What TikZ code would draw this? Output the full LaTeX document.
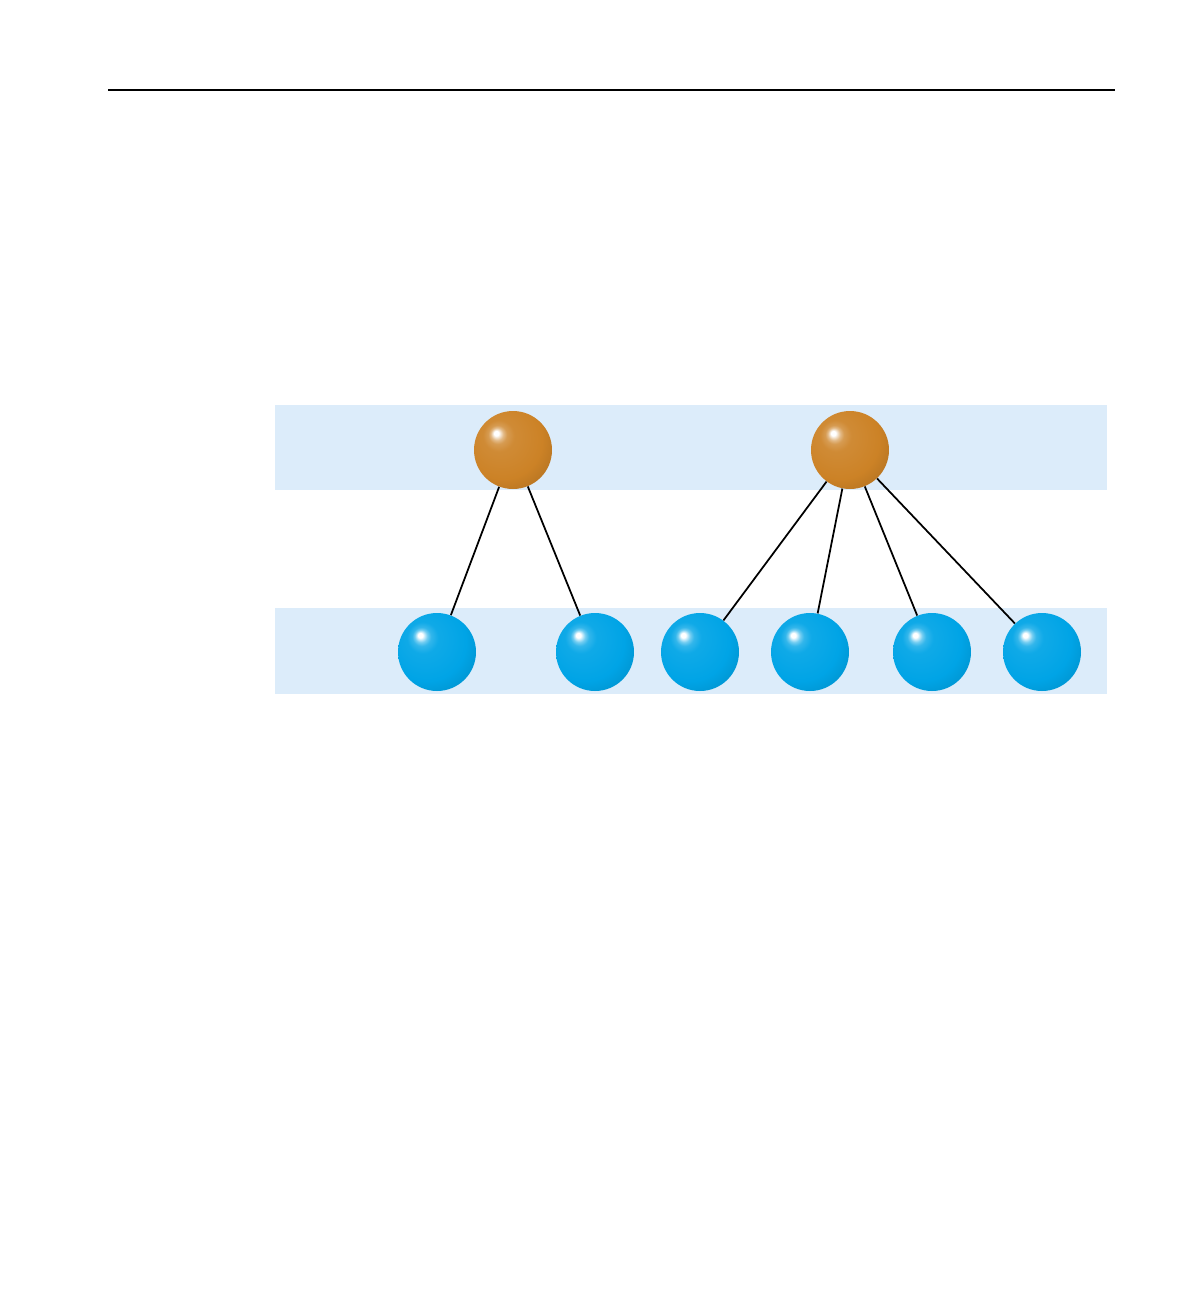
\documentclass[tikz,border=0pt]{standalone}
\usepackage{tikz}
\usetikzlibrary{positioning,calc}
\definecolor{BandBlue}{RGB}{220,236,250}
\definecolor{HubOrange}{RGB}{204,130,38}
\definecolor{LeafBlue}{RGB}{0,164,230}
\pgfdeclareradialshading{hubshade}{\pgfpoint{-11bp}{11bp}}{%
  color(0bp)=(white);
  color(1.5bp)=(white);
  color(4bp)=(white!45!HubOrange);
  color(6bp)=(HubOrange!80!white);
  color(10bp)=(HubOrange!93!white);
  color(25bp)=(HubOrange);
  color(32bp)=(HubOrange!92!black);
  color(40bp)=(HubOrange!85!black);
  color(60bp)=(HubOrange!85!black)}
\pgfdeclareradialshading{leafshade}{\pgfpoint{-11bp}{11bp}}{%
  color(0bp)=(white);
  color(1.5bp)=(white);
  color(4bp)=(white!45!LeafBlue);
  color(6bp)=(LeafBlue!80!white);
  color(10bp)=(LeafBlue!94!white);
  color(25bp)=(LeafBlue);
  color(32bp)=(LeafBlue!93!black);
  color(40bp)=(LeafBlue!86!black);
  color(60bp)=(LeafBlue!86!black)}
\tikzset{
  hub/.style={circle,minimum size=1.56cm,inner sep=0pt,shading=hubshade},
  leaf/.style={circle,minimum size=1.56cm,inner sep=0pt,shading=leafshade},
  link/.style={line width=1pt,black}
}
\begin{document}
\begin{tikzpicture}[x=0.02cm,y=-0.02cm]
    \useasboundingbox (0,0) rectangle (1188,1296);
    \draw[line width=0.6pt] (108,90) -- (1115,90);
    \fill[BandBlue] (275,405) rectangle (1107,490);
    \fill[BandBlue] (275,608) rectangle (1107,694);
    \node[hub] (hubA) at (513,450) {};
    \node[hub] (hubB) at (850,450) {};
    \node[leaf] (leafA) at (437,652) {};
    \node[leaf] (leafB) at (595,652) {};
    \node[leaf] (leafC) at (700,652) {};
    \node[leaf] (leafD) at (810,652) {};
    \node[leaf] (leafE) at (932,652) {};
    \node[leaf] (leafF) at (1042,652) {};
    \draw[link] (hubA) -- (leafA);
    \draw[link] (hubA) -- (leafB);
    \draw[link] (hubB) -- (leafC);
    \draw[link] (hubB) -- (leafD);
    \draw[link] (hubB) -- (leafE);
    \draw[link] (hubB) -- (leafF);
  \end{tikzpicture}
\end{document}
